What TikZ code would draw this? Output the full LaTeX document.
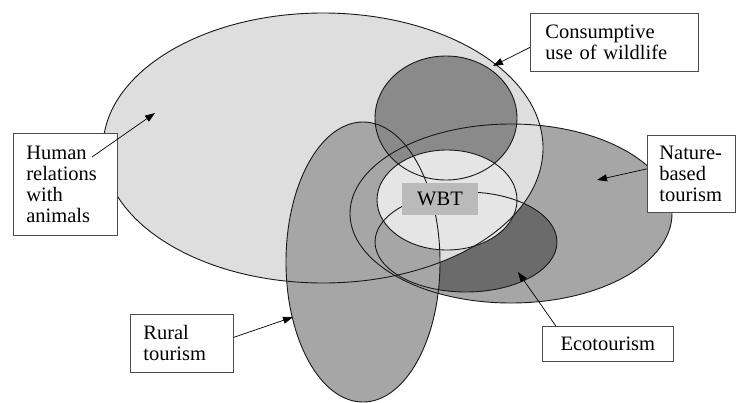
\documentclass[tikz,border=0pt]{standalone}
\usepackage{fontspec}
\setmainfont{Liberation Serif}
\usetikzlibrary{arrows.meta}

% grey levels of the overlapping zones
\definecolor{humanfill}{gray}{0.87}
\definecolor{naturefill}{gray}{0.65}
\definecolor{ruralfill}{gray}{0.65}
\definecolor{consfill}{gray}{0.54}
\definecolor{ecofill}{gray}{0.42}
\definecolor{wbtfill}{gray}{0.90}
\definecolor{wbtboxfill}{gray}{0.73}

\begin{document}
\begin{tikzpicture}[x=1pt,y=-1pt,
  zone/.style={draw=black!90,line width=0.9pt},
  humanshape/.style={x radius=220pt,y radius=135pt},
  natureshape/.style={x radius=161pt,y radius=89.5pt},
  ruralshape/.style={x radius=77pt,y radius=140pt},
  consshape/.style={x radius=71pt,y radius=62pt},
  ecoshape/.style={x radius=91pt,y radius=50pt},
  wbtshape/.style={x radius=70pt,y radius=50pt},
  labelbox/.style={draw=black!70,line width=0.7pt,fill=white,
    font=\fontsize{20.5}{21}\selectfont,inner ysep=0pt,anchor=north west,align=left},
  pointer/.style={draw=black,line width=0.7pt,-{Triangle[length=10pt,width=7pt]}}]

\useasboundingbox (0,0) rectangle (738,402);
\fill[white] (0,0) rectangle (738,402);

% centres of the zones
\coordinate (hrC) at (323,148);
\coordinate (nbC) at (511,213.5);
\coordinate (rtC) at (363,262);
\coordinate (cuC) at (446,118);
\coordinate (ecC) at (466,242);
\coordinate (wbC) at (447,200);

% fills, back to front
\fill[naturefill] (nbC) ellipse [natureshape];
\fill[ecofill]    (ecC) ellipse [ecoshape];
\fill[humanfill]  (hrC) ellipse [humanshape];
\fill[ruralfill]  (rtC) ellipse [ruralshape];
\fill[consfill]   (cuC) ellipse [consshape];
\fill[wbtfill]    (wbC) ellipse [wbtshape];

% every outline stays visible over the fills
\draw[zone] (nbC) ellipse [natureshape];
\draw[zone] (ecC) ellipse [ecoshape];
\draw[zone] (hrC) ellipse [humanshape];
\draw[zone] (rtC) ellipse [ruralshape];
\draw[zone] (cuC) ellipse [consshape];
\draw[zone] (wbC) ellipse [wbtshape];

% core label
\node[fill=wbtboxfill,minimum width=76pt,minimum height=32pt,inner sep=0pt,
      font=\fontsize{20.5}{21}\selectfont] (wbt) at (440,199) {WBT};

% labels
\node[labelbox,inner xsep=13pt,text width=78pt,minimum height=102pt] (hum) at (13,133)
  {Human\\relations\\with\\animals};
\node[labelbox,inner xsep=15pt,text width=138pt,minimum height=58pt] (cons) at (530,13)
  {Consumptive\\use of wildlife};
\node[labelbox,inner xsep=12pt,text width=64pt,minimum height=77pt] (nat) at (647,135)
  {Nature-\\based\\tourism};
\node[labelbox,inner xsep=13pt,text width=77pt,minimum height=58pt] (rur) at (130,314)
  {Rural\\tourism};
\node[labelbox,align=center,inner xsep=0pt,minimum width=131pt,minimum height=35pt] (eco) at (542,326)
  {Ecotourism};

% pointer ends
\coordinate (humStart) at (92,157);
\coordinate (humTip)  at (155,113);
\coordinate (consTip) at (493,66);
\coordinate (natTip)  at (597,180);
\coordinate (rurTip)  at (293,317);
\coordinate (ecoTip)  at (518,272);

\draw[pointer] (humStart) -- (humTip);
\draw[pointer] ([yshift=-5pt]cons.west) -- (consTip);
\draw[pointer] ([yshift=5pt]nat.west) -- (natTip);
\draw[pointer] ([yshift=6pt]rur.east) -- (rurTip);
\draw[pointer] ([xshift=-52pt]eco.north) -- (ecoTip);
\end{tikzpicture}
\end{document}
